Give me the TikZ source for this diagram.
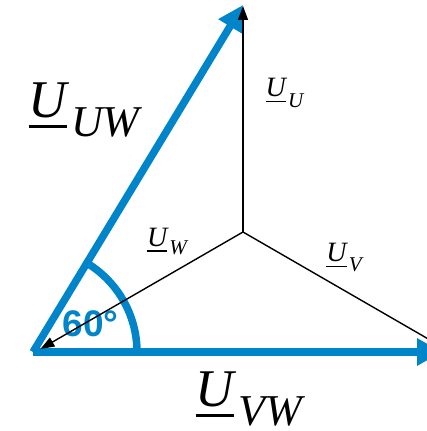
\documentclass[tikz,border=0pt]{standalone}
\usepackage{fontspec}
\setmainfont{Liberation Serif}
\newfontfamily\anglefont{Liberation Sans}
\usepackage{xcolor}
\usetikzlibrary{arrows.meta}
\definecolor{phasorblue}{RGB}{0,133,202}
% underlined U with a lowered index: size of index, index, drop
\newcommand{\phasor}[3]{\rlap{\rule[-0.2em]{0.72em}{0.055em}}U\hspace{0.08em}\raisebox{-#3}{\fontsize{#1}{#1}\selectfont #2}}

\begin{document}
\begin{tikzpicture}[
  x=1pt, y=1pt,
  every node/.style={inner sep=0pt},
  star/.style={draw=black, line width=1.4pt, -{Triangle[length=14pt,width=10pt]}},
  delta/.style={draw=phasorblue, line width=7.5pt, -{Triangle[length=25pt,width=26pt]}},
  biglabel/.style={font=\fontsize{53}{53}\selectfont\itshape},
  smalllabel/.style={font=\fontsize{28}{28}\selectfont\itshape},
  anglelabel/.style={font=\fontsize{37}{37}\selectfont\anglefont\bfseries, text=phasorblue},
]
\useasboundingbox (0,0) rectangle (427,431);
% Star point and phase ends
\coordinate (N) at (243,199);
\coordinate (U) at (243,425);
\coordinate (W) at (40.4,82);
\coordinate (V) at (445.6,82);
% Line-to-line
\coordinate (A) at (33,79);
\coordinate (UWtip) at (243,426);
\coordinate (VWtip) at (442,79);

\draw[delta] (A) -- (UWtip);
\draw[delta] (A) -- (VWtip);
\draw[phasorblue, line width=7.5pt] (137,79) arc[start angle=0, end angle=60, radius=104];
\node[anglelabel] (ang) at (90.5,107) {60°};

% Phase voltages
\draw[star] (N) -- (U);
\draw[star] (N) -- (W);
\draw[star] (N) -- (V);

% Labels
\node[biglabel] (luw) at (84,321) {\phasor{44}{UW}{0.37em}};
\node[biglabel] (lvw) at (249,32) {\phasor{44}{VW}{0.35em}};
\node[smalllabel] (lu) at (284.5,338) {\phasor{21}{U}{0.38em}};
\node[smalllabel] (lw) at (167,189.5) {\phasor{21}{W}{0.3em}};
\node[smalllabel] (lv) at (344,173.5) {\phasor{21}{V}{0.35em}};
\end{tikzpicture}
\end{document}
